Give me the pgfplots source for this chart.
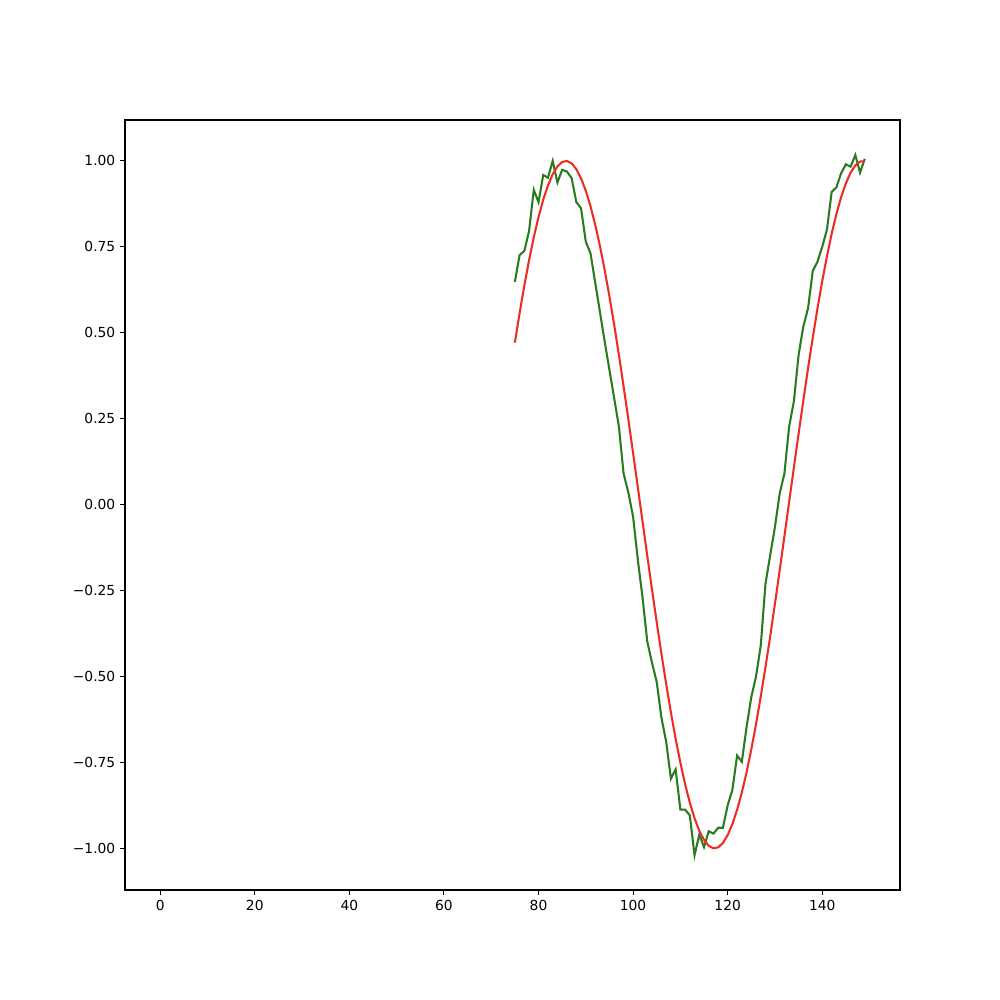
\documentclass[border=0pt]{standalone}
\usepackage{fontspec}
\setmainfont{DejaVu Sans}
\usepackage{pgfplots}
\pgfplotsset{compat=1.18}
\definecolor{mplred}{RGB}{235,45,35}
\definecolor{mplgreen}{RGB}{42,122,30}
\begin{document}
\begin{tikzpicture}
\path[use as bounding box] (0,0) rectangle (10in,10in);
\begin{axis}[
  at={(1.25in,1.10in)}, anchor=south west,
  scale only axis, width=7.75in, height=7.70in,
  xmin=-7.45, xmax=156.45, ymin=-1.121, ymax=1.119,
  axis line style={line width=0.8pt},
  tick align=outside, tick pos=left,
  major tick length=3.5pt,
  every tick/.style={black, line width=0.8pt},
  xtick={0,20,40,60,80,100,120,140},
  xticklabels={0,20,40,60,80,100,120,140},
  ytick={-1,-0.75,-0.5,-0.25,0,0.25,0.5,0.75,1},
  yticklabels={−1.00,−0.75,−0.50,−0.25,0.00,0.25,0.50,0.75,1.00},
  ticklabel style={font=\fontsize{10}{12}\selectfont},
  xticklabel style={yshift=-0.5pt},
]
\addplot[mplgreen, line width=1.5pt] coordinates {
(75,0.648) (76,0.726) (77,0.738) (78,0.796) (79,0.916) (80,0.880) (81,0.959) (82,0.951) (83,1.000) (84,0.937)
(85,0.974) (86,0.969) (87,0.950) (88,0.880) (89,0.862) (90,0.765) (91,0.731) (92,0.645) (93,0.560) (94,0.474)
(95,0.392) (96,0.310) (97,0.227) (98,0.090) (99,0.035) (100,-0.035) (101,-0.160) (102,-0.270) (103,-0.398) (104,-0.460)
(105,-0.516) (106,-0.620) (107,-0.690) (108,-0.797) (109,-0.770) (110,-0.887) (111,-0.887) (112,-0.904) (113,-1.020) (114,-0.960)
(115,-0.996) (116,-0.950) (117,-0.957) (118,-0.940) (119,-0.940) (120,-0.875) (121,-0.830) (122,-0.730) (123,-0.748) (124,-0.647)
(125,-0.560) (126,-0.500) (127,-0.410) (128,-0.230) (129,-0.147) (130,-0.065) (131,0.032) (132,0.090) (133,0.227) (134,0.300)
(135,0.435) (136,0.518) (137,0.571) (138,0.680) (139,0.707) (140,0.750) (141,0.800) (142,0.910) (143,0.923) (144,0.964)
(145,0.990) (146,0.983) (147,1.017) (148,0.966) (149,1.006)
};
\addplot[mplred, line width=1.5pt] coordinates {
(75,0.4713) (76,0.5570) (77,0.6372) (78,0.7109) (79,0.7776) (80,0.8365) (81,0.8870) (82,0.9287) (83,0.9611) (84,0.9838)
(85,0.9968) (86,0.9998) (87,0.9928) (88,0.9759) (89,0.9492) (90,0.9131) (91,0.8678) (92,0.8139) (93,0.7518) (94,0.6822)
(95,0.6058) (96,0.5234) (97,0.4357) (98,0.3436) (99,0.2482) (100,0.1502) (101,0.0508) (102,-0.0492) (103,-0.1484) (104,-0.2470)
(105,-0.3421) (106,-0.4342) (107,-0.5220) (108,-0.6046) (109,-0.6810) (110,-0.7507) (111,-0.8130) (112,-0.8670) (113,-0.9124) (114,-0.9487)
(115,-0.9756) (116,-0.9926) (117,-0.9998) (118,-0.9969) (119,-0.9841) (120,-0.9615) (121,-0.9293) (122,-0.8877) (123,-0.8374) (124,-0.7786)
(125,-0.7121) (126,-0.6384) (127,-0.5582) (128,-0.4728) (129,-0.3830) (130,-0.2881) (131,-0.1912) (132,-0.0923) (133,0.0076) (134,0.1073)
(135,0.2060) (136,0.3026) (137,0.3967) (138,0.4858) (139,0.5708) (140,0.6500) (141,0.7226) (142,0.7880) (143,0.8456) (144,0.8946)
(145,0.9348) (146,0.9656) (147,0.9867) (148,0.9980) (149,0.9993)
};
\end{axis}
\end{tikzpicture}
\end{document}
